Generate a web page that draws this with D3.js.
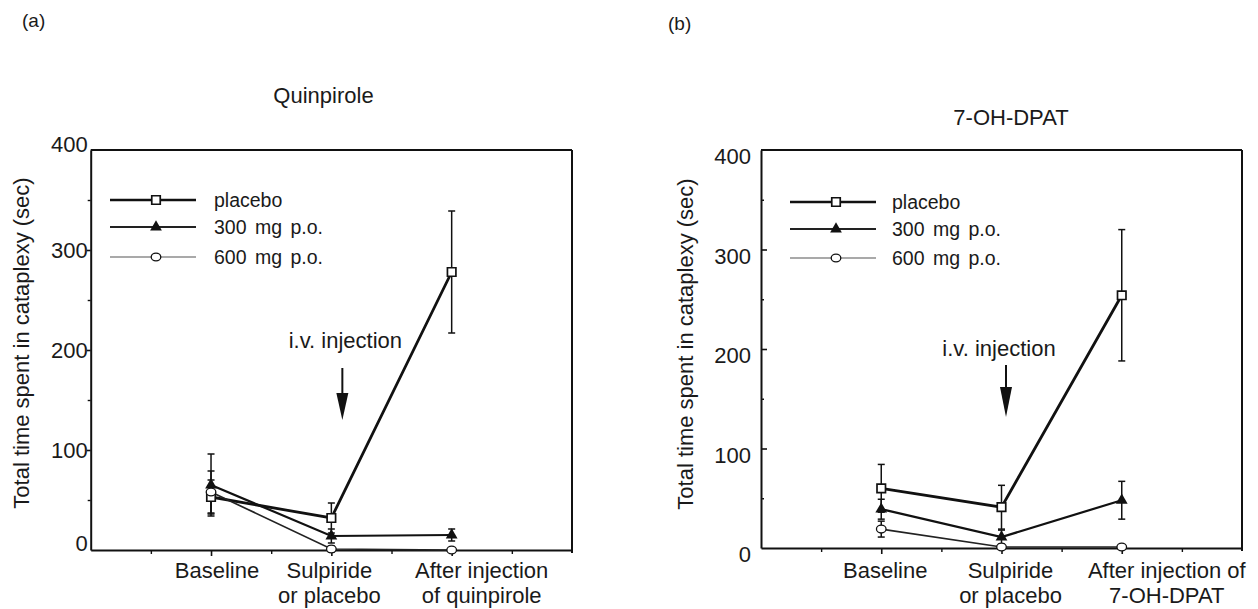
<html>
 <head>
  <title>Cataplexy - quinpirole / 7-OH-DPAT</title>
  <script src="https://cdn.jsdelivr.net/npm/d3@7"></script>
  <style>
    body {
        margin: 0;
        background: #fff;
        font-family: "Liberation Sans", Arial, Helvetica, sans-serif;
    }
    svg text {
        fill: #1a1a1a;
    }
  </style>
 </head>
 <body>
 <div id="draw"></div>
 <script type="application/javascript">
    // ---- data ----
    var seriesNames = ["placebo", "300 mg p.o.", "600 mg p.o."];
    var yTicks = [0, 100, 200, 300, 400];
    var catLabelsA = [["Baseline"], ["Sulpiride", "or placebo"], ["After injection", "of quinpirole"]];
    var catLabelsB = [["Baseline"], ["Sulpiride", "or placebo"], ["After injection of", "7-OH-DPAT"]];

    // (a) quinpirole
    var quinPlacebo    = [53, 32, 278];
    var quinPlaceboErr = [17, 15, 61];
    var quin300        = [65, 14, 15];
    var quin300Err     = [31, 7, 6];
    var quin600        = [58, 1, 0];
    var quin600Err     = [21, 3, 1];

    // (b) 7-OH-DPAT
    var dpatPlacebo    = [60, 41, 254];
    var dpatPlaceboErr = [24, 22, 66];
    var dpat300        = [39, 11, 48];
    var dpat300Err     = [10, 7, 19];
    var dpat600        = [19, 1, 1];
    var dpat600Err     = [8, 1, 1];

    var W = 1258, H = 609;
    var svg = d3.select('#draw').append('svg').attr('width', W).attr('height', H);

    // line style of each series: in the plot, and in the legend
    var styles = [
      {shape: 'square',   width: 2.8, legWidth: 2.6, color: '#111', legColor: '#111'},
      {shape: 'triangle', width: 2.2, legWidth: 2.0, color: '#111', legColor: '#222'},
      {shape: 'circle',   width: 1.7, legWidth: 1.2, color: '#222', legColor: '#555'}
    ];

    function drawPanel(c) {
      var x = d3.scaleLinear().domain([0, 4]).range([c.left, c.right]);
      var y = d3.scaleLinear().domain([0, 400]).range([c.bottom, c.top]);
      var g = svg.append('g');

      // panel letter + title
      g.append('text').attr('x', c.labelX).attr('y', c.labelY)
        .style('font-size', '19px').text(c.label);
      g.append('text').attr('x', c.titleX).attr('y', c.titleY)
        .attr('text-anchor', 'middle').style('font-size', '22px').text(c.title);

      // y axis (major + minor)
      var yAx = d3.axisLeft(y).tickValues(yTicks).tickFormat(d3.format('d'))
        .tickSizeInner(c.yTickIn ? -6 : 4).tickSizeOuter(0).tickPadding(c.yPad);
      var ya = g.append('g').attr('transform', 'translate(' + c.left + ',0)').call(yAx);
      ya.select('.domain').attr('stroke', '#111').attr('stroke-width', 2);
      ya.selectAll('.tick line').attr('stroke', '#111').attr('stroke-width', 1.6);
      ya.selectAll('.tick text').style('font-size', '22px')
        .style('font-family', '"Liberation Sans", Arial, sans-serif')
        .attr('fill', '#1a1a1a').attr('dy', function(d) { return c.yDy(d); });
      ya.selectAll('.tick').filter(function(d) { return d == 0 || d == 400; }).select('line').remove();

      var yMin = d3.axisLeft(y).tickValues([50, 150, 250, 350]).tickFormat('')
        .tickSizeInner(c.yTickIn ? -3 : 3).tickSizeOuter(0);
      var ym = g.append('g').attr('transform', 'translate(' + c.left + ',0)').call(yMin);
      ym.select('.domain').remove();
      ym.selectAll('.tick line').attr('stroke', '#111').attr('stroke-width', 1.4);

      // x axis (major + minor)
      var xAx = d3.axisBottom(x).tickValues([1, 2, 3]).tickFormat('').tickSizeInner(6).tickSizeOuter(0);
      var xa = g.append('g').attr('transform', 'translate(0,' + c.bottom + ')').call(xAx);
      xa.select('.domain').attr('stroke', '#111').attr('stroke-width', 2);
      xa.selectAll('.tick line').attr('stroke', '#111').attr('stroke-width', 1.6);
      var xMin = d3.axisBottom(x).tickValues([0.5, 1.5, 2.5, 3.5]).tickFormat('').tickSizeInner(4).tickSizeOuter(0);
      var xm = g.append('g').attr('transform', 'translate(0,' + c.bottom + ')').call(xMin);
      xm.select('.domain').remove();
      xm.selectAll('.tick line').attr('stroke', '#111').attr('stroke-width', 1.4);

      // top and right of the box
      g.append('line').attr('x1', x(0)).attr('x2', x(4)).attr('y1', y(400)).attr('y2', y(400))
        .attr('stroke', '#111').attr('stroke-width', 2);
      g.append('line').attr('x1', x(4)).attr('x2', x(4)).attr('y1', y(400)).attr('y2', y(0) + 3)
        .attr('stroke', '#111').attr('stroke-width', 2);

      // category labels
      c.cats.forEach(function(lines, i) {
        var t = g.append('text').attr('text-anchor', 'middle').style('font-size', '22px');
        lines.forEach(function(s, j) {
          t.append('tspan').attr('x', x(i + 1) + c.catShift[i]).attr('y', 578 + j * 25).text(s);
        });
      });

      // y title
      g.append('text')
        .attr('transform', 'translate(' + c.ylabX + ',' + c.ylabY + ') rotate(-90)')
        .attr('text-anchor', 'middle').style('font-size', '22px')
        .text('Total time spent in cataplexy (sec)');

      // injection arrow
      var ax = x(2) + c.arrowDx;
      g.append('line').attr('x1', ax).attr('x2', ax).attr('y1', c.arrowTop).attr('y2', c.arrowHead)
        .attr('stroke', '#111').attr('stroke-width', 2);
      g.append('path')
        .attr('d', 'M' + (ax - 6) + ',' + c.arrowHead + 'L' + (ax + 6) + ',' + c.arrowHead + 'L' + ax + ',' + c.arrowBottom + 'Z')
        .attr('fill', '#111');
      g.append('text').attr('x', ax + c.ivDx).attr('y', c.ivY).attr('text-anchor', 'middle')
        .style('font-size', '22px').text('i.v. injection');

      // series: lines, error bars, markers
      var line = d3.line().x(function(d, i) { return x(i + 1); }).y(function(d) { return y(d); });
      c.means.forEach(function(m, s) {
        var st = styles[s];
        g.append('path').datum(m).attr('d', line).attr('fill', 'none')
          .attr('stroke', st.color).attr('stroke-width', st.width);
      });
      c.means.forEach(function(m, s) {
        var er = c.errs[s];
        m.forEach(function(v, i) {
          var px = x(i + 1);
          var eb = g.append('g').attr('stroke', '#111').attr('stroke-width', 1.5);
          eb.append('line').attr('x1', px).attr('x2', px).attr('y1', y(v - er[i])).attr('y2', y(v + er[i]));
          eb.append('line').attr('x1', px - 3.5).attr('x2', px + 3.5).attr('y1', y(v + er[i])).attr('y2', y(v + er[i]));
          eb.append('line').attr('x1', px - 3.5).attr('x2', px + 3.5).attr('y1', y(v - er[i])).attr('y2', y(v - er[i]));
        });
      });
      c.means.forEach(function(m, s) {
        m.forEach(function(v, i) {
          marker(g, styles[s].shape, x(i + 1), y(v));
        });
      });

      // legend
      seriesNames.forEach(function(name, s) {
        var ly = c.legY[s];
        var st = styles[s];
        g.append('line').attr('x1', c.legX0).attr('x2', c.legX1).attr('y1', ly).attr('y2', ly)
          .attr('stroke', st.legColor).attr('stroke-width', st.legWidth);
        marker(g, st.shape, c.legMark, ly);
        g.append('text').attr('x', c.legText).attr('y', ly + 7)
          .style('font-size', '19.5px').style('word-spacing', '3px').text(name);
      });
    }

    function marker(g, shape, cx, cy) {
      if (shape == 'square') {
        g.append('path').attr('d', d3.symbol(d3.symbolSquare, 72)())
          .attr('transform', 'translate(' + cx + ',' + cy + ')')
          .attr('fill', '#fff').attr('stroke', '#111').attr('stroke-width', 1.7);
      } else if (shape == 'triangle') {
        g.append('path').attr('d', d3.symbol(d3.symbolTriangle, 60)())
          .attr('transform', 'translate(' + cx + ',' + cy + ')')
          .attr('fill', '#111');
      } else {
        g.append('ellipse').attr('cx', cx).attr('cy', cy).attr('rx', 4.8).attr('ry', 3.9)
          .attr('fill', '#fff').attr('stroke', '#111').attr('stroke-width', 1.3);
      }
    }

    drawPanel({
      left: 90.7, right: 572, top: 150, bottom: 550,
      label: '(a)', labelX: 22, labelY: 27,
      title: 'Quinpirole', titleX: 323.5, titleY: 103,
      yTickIn: false, yPad: -1,
      yDy: function(d) { return d == 0 ? '-0.0em' : (d == 400 ? '0.05em' : '0.35em'); },
      cats: catLabelsA, catShift: [6, -2, 30],
      ylabX: 28.5, ylabY: 343,
      arrowDx: 11, arrowTop: 368, arrowHead: 393, arrowBottom: 420, ivDx: 3, ivY: 348,
      means: [quinPlacebo, quin300, quin600],
      errs: [quinPlaceboErr, quin300Err, quin600Err],
      legX0: 110, legX1: 196, legMark: 156, legText: 214, legY: [200, 227, 257]
    });

    drawPanel({
      left: 761, right: 1242, top: 150, bottom: 548,
      label: '(b)', labelX: 668, labelY: 30,
      title: '7-OH-DPAT', titleX: 1011, titleY: 125,
      yTickIn: true, yPad: 10,
      yDy: function(d) { return '0.62em'; },
      cats: catLabelsB, catShift: [4, 9, 45],
      ylabX: 693, ylabY: 344,
      arrowDx: 4.5, arrowTop: 365, arrowHead: 387, arrowBottom: 417, ivDx: -7, ivY: 356,
      means: [dpatPlacebo, dpat300, dpat600],
      errs: [dpatPlaceboErr, dpat300Err, dpat600Err],
      legX0: 790, legX1: 876, legMark: 836, legText: 892, legY: [202, 229, 258]
    });
 </script>
 </body>
</html>
